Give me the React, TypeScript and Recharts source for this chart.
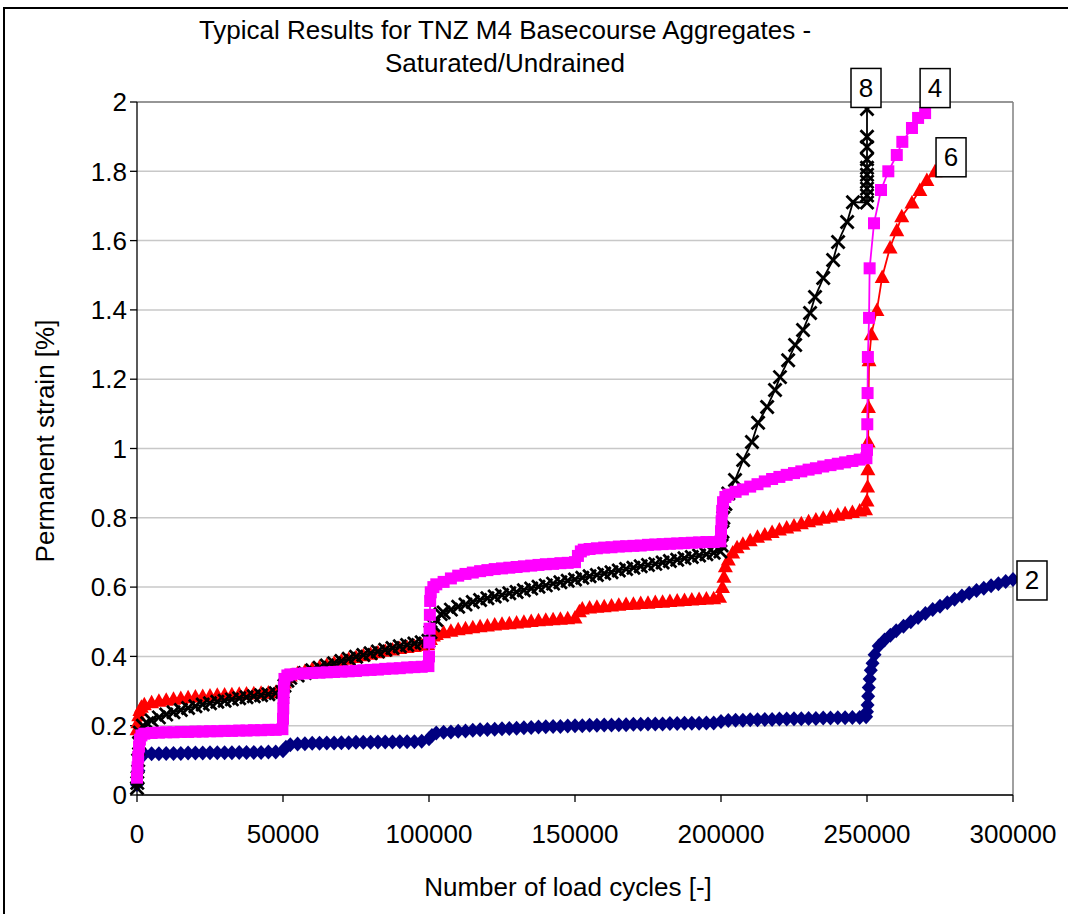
import {
  ScatterChart,
  Scatter,
  XAxis,
  YAxis,
  CartesianGrid,
  ReferenceLine,
  ReferenceDot,
  Label,
} from "recharts";

type Point = [number, number];

// [load cycles, permanent strain %] for each test
const test2Points: Point[] = [
  [0, 0.03], [500, 0.07], [1000, 0.105], [2000, 0.117],
  [2500, 0.118], [5000, 0.119], [7500, 0.119], [10000, 0.12], [12500, 0.12], [15000, 0.12],
  [17500, 0.121], [20000, 0.121], [22500, 0.121], [25000, 0.122], [27500, 0.122], [30000, 0.122],
  [32500, 0.122], [35000, 0.123], [37500, 0.123], [40000, 0.123], [42500, 0.123], [45000, 0.124],
  [47500, 0.124],
  [50000, 0.128], [51000, 0.138], [52500, 0.145], [55000, 0.147], [57500, 0.148], [60000, 0.149],
  [62500, 0.149], [65000, 0.15], [67500, 0.15], [70000, 0.151], [72500, 0.151], [75000, 0.152],
  [77500, 0.152], [80000, 0.152], [82500, 0.153], [85000, 0.153], [87500, 0.153], [90000, 0.154],
  [92500, 0.154], [95000, 0.154], [97500, 0.155],
  [100000, 0.162], [101000, 0.172], [102500, 0.179], [105000, 0.181], [107500, 0.182],
  [110000, 0.184], [112500, 0.185], [115000, 0.187], [117500, 0.188], [120000, 0.189],
  [122500, 0.19], [125000, 0.191], [127500, 0.192], [130000, 0.193], [132500, 0.194],
  [135000, 0.195], [137500, 0.196], [140000, 0.197], [142500, 0.198], [145000, 0.198],
  [147500, 0.199], [150000, 0.2], [152500, 0.2], [155000, 0.201], [157500, 0.201],
  [160000, 0.202], [162500, 0.202], [165000, 0.203], [167500, 0.203], [170000, 0.204],
  [172500, 0.204], [175000, 0.205], [177500, 0.205], [180000, 0.205], [182500, 0.206],
  [185000, 0.206], [187500, 0.207], [190000, 0.207], [192500, 0.207], [195000, 0.208],
  [197500, 0.208],
  [200000, 0.212], [202500, 0.215], [205000, 0.216], [207500, 0.216], [210000, 0.217],
  [212500, 0.217], [215000, 0.218], [217500, 0.218], [220000, 0.219], [222500, 0.219],
  [225000, 0.22], [227500, 0.22], [230000, 0.221], [232500, 0.221], [235000, 0.222],
  [237500, 0.222], [240000, 0.223], [242500, 0.223], [245000, 0.224], [247500, 0.224],
  [249700, 0.226],
  [250000, 0.24], [250200, 0.26], [250400, 0.285], [250600, 0.31], [250900, 0.335],
  [251300, 0.36], [251900, 0.38], [252600, 0.405], [254000, 0.43], [256000, 0.447],
  [258000, 0.461], [260000, 0.474], [262500, 0.487], [265000, 0.5], [267500, 0.512],
  [270000, 0.524], [272500, 0.535], [275000, 0.545], [277500, 0.555], [280000, 0.565],
  [282500, 0.574], [285000, 0.582], [287500, 0.59], [290000, 0.597], [292500, 0.604],
  [295000, 0.61], [297500, 0.616], [300000, 0.622],
];

const test4Points: Point[] = [
  [0, 0.05], [200, 0.08], [400, 0.11], [700, 0.14], [1000, 0.16], [1500, 0.172],
  [2500, 0.177], [5000, 0.179], [7500, 0.18], [10000, 0.181], [12500, 0.181], [15000, 0.182],
  [17500, 0.182], [20000, 0.183], [22500, 0.183], [25000, 0.184], [27500, 0.184], [30000, 0.185],
  [32500, 0.185], [35000, 0.186], [37500, 0.186], [40000, 0.187], [42500, 0.187], [45000, 0.188],
  [47500, 0.188], [49800, 0.19],
  [50000, 0.22], [50100, 0.25], [50200, 0.28], [50300, 0.31], [50500, 0.335], [51500, 0.345],
  [52500, 0.348], [55000, 0.35], [57500, 0.351], [60000, 0.352], [62500, 0.353], [65000, 0.354],
  [67500, 0.355], [70000, 0.356], [72500, 0.357], [75000, 0.358], [77500, 0.36], [80000, 0.361],
  [82500, 0.362], [85000, 0.364], [87500, 0.365], [90000, 0.366], [92500, 0.368], [95000, 0.369],
  [97500, 0.37], [99800, 0.372],
  [100000, 0.4], [100100, 0.44], [100200, 0.48], [100300, 0.52], [100400, 0.56], [100600, 0.585],
  [101500, 0.6], [102500, 0.608], [105000, 0.615], [107500, 0.625], [110000, 0.633],
  [112500, 0.638], [115000, 0.642], [117500, 0.646], [120000, 0.649], [122500, 0.652],
  [125000, 0.654], [127500, 0.656], [130000, 0.658], [132500, 0.66], [135000, 0.662],
  [137500, 0.664], [140000, 0.666], [142500, 0.667], [145000, 0.669], [147500, 0.67],
  [150000, 0.672], [151000, 0.69], [152000, 0.703], [153000, 0.708], [155000, 0.71],
  [157500, 0.712], [160000, 0.714], [162500, 0.715], [165000, 0.717], [167500, 0.718],
  [170000, 0.719], [172500, 0.72], [175000, 0.722], [177500, 0.723], [180000, 0.724],
  [182500, 0.725], [185000, 0.726], [187500, 0.727], [190000, 0.728], [192500, 0.729],
  [195000, 0.73], [197500, 0.73], [199800, 0.732],
  [200000, 0.76], [200200, 0.79], [200400, 0.82], [200700, 0.845], [201500, 0.86],
  [202500, 0.867], [205000, 0.875], [207500, 0.882], [210000, 0.89], [212500, 0.897],
  [215000, 0.905], [217500, 0.912], [220000, 0.918], [222500, 0.924], [225000, 0.929],
  [227500, 0.934], [230000, 0.939], [232500, 0.943], [235000, 0.948], [237500, 0.952],
  [240000, 0.956], [242500, 0.96], [245000, 0.964], [247500, 0.968], [249800, 0.972],
  [250000, 0.996], [250100, 1.07], [250200, 1.16], [250300, 1.264], [250700, 1.377],
  [250900, 1.52], [252400, 1.65], [254800, 1.746], [257300, 1.8], [260200, 1.847],
  [262100, 1.885], [265400, 1.925], [267500, 1.954], [269900, 1.968],
];

const test6Points: Point[] = [
  [0, 0.19], [300, 0.21], [600, 0.23], [1000, 0.245], [1500, 0.255], [2500, 0.262],
  [5000, 0.268], [7500, 0.272], [10000, 0.275], [12500, 0.278], [15000, 0.28], [17500, 0.282],
  [20000, 0.284], [22500, 0.286], [25000, 0.287], [27500, 0.289], [30000, 0.29], [32500, 0.291],
  [35000, 0.292], [37500, 0.293], [40000, 0.294], [42500, 0.295], [45000, 0.296], [47500, 0.297],
  [49500, 0.3],
  [50500, 0.325], [51500, 0.34], [52500, 0.345], [55000, 0.352], [57500, 0.358], [60000, 0.364],
  [62500, 0.37], [65000, 0.376], [67500, 0.382], [70000, 0.388], [72500, 0.393], [75000, 0.398],
  [77500, 0.403], [80000, 0.408], [82500, 0.412], [85000, 0.416], [87500, 0.42], [90000, 0.424],
  [92500, 0.427], [95000, 0.43], [97500, 0.433], [99500, 0.436],
  [100500, 0.45], [101500, 0.46], [102500, 0.465], [105000, 0.47], [107500, 0.474],
  [110000, 0.478], [112500, 0.481], [115000, 0.484], [117500, 0.487], [120000, 0.489],
  [122500, 0.492], [125000, 0.494], [127500, 0.496], [130000, 0.498], [132500, 0.5],
  [135000, 0.502], [137500, 0.504], [140000, 0.506], [142500, 0.507], [145000, 0.509],
  [147500, 0.51], [150000, 0.512], [151500, 0.53], [152500, 0.538], [155000, 0.541],
  [157500, 0.543], [160000, 0.545], [162500, 0.547], [165000, 0.549], [167500, 0.551],
  [170000, 0.552], [172500, 0.554], [175000, 0.555], [177500, 0.557], [180000, 0.558],
  [182500, 0.56], [185000, 0.561], [187500, 0.563], [190000, 0.564], [192500, 0.566],
  [195000, 0.567], [197500, 0.568], [199500, 0.572],
  [200500, 0.6], [201000, 0.63], [201500, 0.66], [202500, 0.68], [204000, 0.7],
  [205500, 0.715], [207500, 0.725], [210000, 0.735], [212500, 0.745], [215000, 0.752],
  [217500, 0.759], [220000, 0.766], [222500, 0.772], [225000, 0.778], [227500, 0.784],
  [230000, 0.79], [232500, 0.795], [235000, 0.8], [237500, 0.804], [240000, 0.809],
  [242500, 0.813], [245000, 0.817], [247500, 0.821], [249500, 0.825],
  [250000, 0.85], [250200, 0.89], [250300, 0.94], [250400, 1.02], [250500, 1.12],
  [250700, 1.255], [251500, 1.33], [253400, 1.4], [255200, 1.495], [257900, 1.58],
  [260200, 1.63], [261900, 1.67], [265400, 1.71], [268100, 1.746], [270500, 1.775],
  [273300, 1.8],
];

const test8Points: Point[] = [
  [0, 0.02], [100, 0.035], [200, 0.05], [400, 0.1], [700, 0.15], [1000, 0.18], [2000, 0.2],
  [3500, 0.207], [5000, 0.215], [7500, 0.224], [10000, 0.232], [12500, 0.239], [15000, 0.245],
  [17500, 0.251], [20000, 0.256], [22500, 0.261], [25000, 0.265], [27500, 0.269], [30000, 0.272],
  [32500, 0.276], [35000, 0.279], [37500, 0.282], [40000, 0.285], [42500, 0.288], [45000, 0.291],
  [47500, 0.294], [49800, 0.297],
  [50500, 0.315], [51500, 0.33], [52500, 0.338], [55000, 0.345], [57500, 0.352], [60000, 0.36],
  [62500, 0.367], [65000, 0.374], [67500, 0.38], [70000, 0.387], [72500, 0.393], [75000, 0.399],
  [77500, 0.404], [80000, 0.409], [82500, 0.414], [85000, 0.419], [87500, 0.424], [90000, 0.429],
  [92500, 0.433], [95000, 0.437], [97500, 0.441], [99800, 0.445],
  [100500, 0.47], [101500, 0.49], [102500, 0.505], [104000, 0.522], [105000, 0.527],
  [107500, 0.535], [110000, 0.543], [112500, 0.55], [115000, 0.557], [117500, 0.563],
  [120000, 0.568], [122500, 0.573], [125000, 0.577], [127500, 0.582], [130000, 0.586],
  [132500, 0.591], [135000, 0.596], [137500, 0.601], [140000, 0.605], [142500, 0.61],
  [145000, 0.614], [147500, 0.618], [150000, 0.622], [152500, 0.627], [155000, 0.631],
  [157500, 0.635], [160000, 0.639], [162500, 0.643], [165000, 0.648], [167500, 0.652],
  [170000, 0.656], [172500, 0.66], [175000, 0.664], [177500, 0.667], [180000, 0.671],
  [182500, 0.675], [185000, 0.679], [187500, 0.683], [190000, 0.687], [192500, 0.691],
  [195000, 0.695], [197500, 0.699], [199800, 0.703],
  [200200, 0.72], [200500, 0.76], [200800, 0.8], [201500, 0.84], [202500, 0.87],
  [204800, 0.909], [207600, 0.967], [210600, 1.019], [212700, 1.074], [215800, 1.12],
  [218500, 1.169], [220200, 1.206], [223000, 1.255], [225400, 1.299], [228100, 1.342],
  [230500, 1.391], [232200, 1.437], [235000, 1.492], [238400, 1.544], [240100, 1.596],
  [243200, 1.654], [245200, 1.711],
  [250000, 1.71], [250000, 1.73], [250000, 1.75], [250000, 1.77], [250000, 1.79],
  [250000, 1.81], [250000, 1.835], [250000, 1.87], [250000, 1.9], [250000, 1.98],
];

const xTicks = [0, 50000, 100000, 150000, 200000, 250000, 300000];
const yTicks = [0, 0.2, 0.4, 0.6, 0.8, 1, 1.2, 1.4, 1.6, 1.8, 2];

const FONT = '"Liberation Sans", Arial, sans-serif';
const NAVY = "#000080";
const MAGENTA = "#FF00FF";
const RED = "#FF0000";
const BLACK = "#000000";

const toRows = (points: Point[]) => points.map(([cycles, strain]) => ({ cycles, strain }));

const diamond = (p: any) => (
  <path
    d={`M${p.cx},${p.cy - 7.5}L${p.cx + 7},${p.cy}L${p.cx},${p.cy + 7.5}L${p.cx - 7},${p.cy}Z`}
    fill={NAVY}
  />
);

const square = (p: any) => <rect x={p.cx - 6} y={p.cy - 6} width={12} height={12} fill={MAGENTA} />;

const triangle = (p: any) => (
  <path d={`M${p.cx},${p.cy - 7.5}L${p.cx + 7.5},${p.cy + 6}L${p.cx - 7.5},${p.cy + 6}Z`} fill={RED} />
);

const cross = (p: any) => (
  <path
    d={`M${p.cx - 6.5},${p.cy - 6.5}L${p.cx + 6.5},${p.cy + 6.5}M${p.cx - 6.5},${p.cy + 6.5}L${p.cx + 6.5},${p.cy - 6.5}`}
    stroke={BLACK}
    strokeWidth={2.8}
  />
);

// boxed test number placed next to the last point of a curve
const endTag = (text: string, dx: number, dy: number) => (p: any) => (
  <g>
    <rect x={p.cx + dx - 15} y={p.cy + dy - 19.5} width={30} height={39} fill="#fff" stroke="#000" strokeWidth={1.5} />
    <text x={p.cx + dx} y={p.cy + dy + 9} textAnchor="middle" fontSize={26} fontFamily={FONT} fill="#000">
      {text}
    </text>
  </g>
);

const series = [
  { name: "2", points: test2Points, shape: diamond, color: NAVY, tag: [19, 1] },
  { name: "6", points: test6Points, shape: triangle, color: RED, tag: [16, -14] },
  { name: "8", points: test8Points, shape: cross, color: BLACK, tag: [-1, -21] },
  { name: "4", points: test4Points, shape: square, color: MAGENTA, tag: [10, -25] },
];

const tickStyle = { fontSize: 26, fill: "#000", fontFamily: FONT };

export default function App() {
  return (
    <div
      style={{
        position: "absolute",
        left: 3,
        top: 7,
        width: 1072,
        height: 916,
        border: "2px solid #000",
        boxSizing: "border-box",
        background: "#fff",
        fontFamily: FONT,
      }}
    >
      <div
        style={{
          position: "absolute",
          left: 0,
          top: 5,
          width: 1000,
          textAlign: "center",
          fontSize: 26,
          lineHeight: "33px",
          color: "#000",
        }}
      >
        <div>Typical Results for TNZ M4 Basecourse Aggregates -</div>
        <div>Saturated/Undrained</div>
      </div>
      <ScatterChart width={1058} height={905} margin={{ top: 93, right: 50, bottom: 0, left: 72 }}>
        <CartesianGrid vertical={false} stroke="#c8c8c8" strokeWidth={1.5} />
        <XAxis
          type="number"
          dataKey="cycles"
          domain={[0, 300000]}
          ticks={xTicks}
          interval={0}
          height={119}
          tickSize={7}
          tickMargin={23}
          tick={tickStyle}
          stroke="#000"
          strokeWidth={1.3}
        >
          <Label
            content={() => (
              <text x={563} y={887} textAnchor="middle" fontSize={26} fontFamily={FONT} fill="#000">
                Number of load cycles [-]
              </text>
            )}
          />
        </XAxis>
        <YAxis
          type="number"
          dataKey="strain"
          domain={[0, 2]}
          ticks={yTicks}
          interval={0}
          width={60}
          tickSize={7}
          tickMargin={3}
          tick={tickStyle}
          stroke="#000"
          strokeWidth={1.3}
        >
          <Label
            content={() => (
              <text
                x={49}
                y={432}
                transform="rotate(-90 49 432)"
                textAnchor="middle"
                fontSize={26}
                fontFamily={FONT}
                fill="#000"
              >
                Permanent strain [%]
              </text>
            )}
          />
        </YAxis>
        <ReferenceLine y={2} stroke="#808080" strokeWidth={1.5} />
        <ReferenceLine x={300000} stroke="#808080" strokeWidth={1.5} />
        {series.map((s) => (
          <Scatter
            key={s.name}
            name={s.name}
            data={toRows(s.points)}
            fill={s.color}
            shape={s.shape}
            line={{ stroke: s.color, strokeWidth: 1.8 }}
            lineType="joint"
            isAnimationActive={false}
          />
        ))}
        {series.map((s) => {
          const [cycles, strain] = s.points[s.points.length - 1];
          return (
            <ReferenceDot
              key={`tag-${s.name}`}
              x={cycles}
              y={strain}
              shape={endTag(s.name, s.tag[0], s.tag[1])}
            />
          );
        })}
      </ScatterChart>
    </div>
  );
}
